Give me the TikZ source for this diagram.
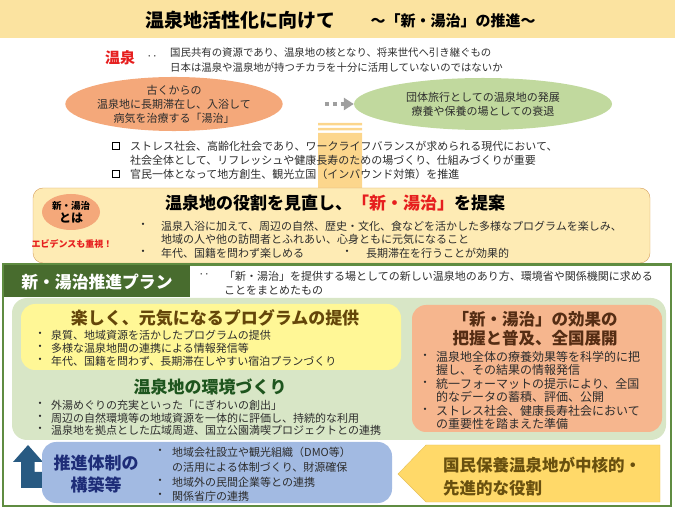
\documentclass[tikz,border=0pt]{standalone}
\usepackage{fontspec}
\setmainfont{Noto Sans CJK JP}
\usepackage{xcolor}
\usepackage{tikz}
\usetikzlibrary{arrows.meta,shapes.geometric}

\definecolor{bandyellow}{RGB}{251,227,160}
\definecolor{bodygray}{RGB}{45,45,45}
\definecolor{onsenred}{RGB}{230,30,30}
\definecolor{oldorange}{RGB}{244,168,122}
\definecolor{newgreen}{RGB}{193,217,158}
\definecolor{stripeyellow}{RGB}{252,214,140}
\definecolor{rolefill}{RGB}{254,235,180}
\definecolor{roleedge}{RGB}{214,160,95}
\definecolor{outergreen}{RGB}{95,140,65}
\definecolor{tabgreen}{RGB}{72,108,46}
\definecolor{panelgreen}{RGB}{216,230,198}
\definecolor{progyellow}{RGB}{255,247,150}
\definecolor{progbrown}{RGB}{100,70,10}
\definecolor{envgreen}{RGB}{30,85,30}
\definecolor{effectorange}{RGB}{246,182,142}
\definecolor{effectbrown}{RGB}{85,45,20}
\definecolor{systemblue}{RGB}{162,186,226}
\definecolor{systemnavy}{RGB}{30,45,120}
\definecolor{uparrowblue}{RGB}{40,90,130}
\definecolor{coreyellow}{RGB}{255,217,105}
\definecolor{coreedge}{RGB}{230,192,85}
\definecolor{coretext}{RGB}{105,80,15}

\tikzset{
  body/.style={font=\fontsize{11}{14}\selectfont, text=bodygray, inner sep=0pt},
  line/.style={body, anchor=west},
  dot/.style={body},
  bighead/.style={font=\fontsize{17}{21}\selectfont\bfseries, inner sep=0pt},
  chk/.style={draw=black, line width=1.3pt, minimum size=7pt, inner sep=0pt},
  dotarrow/.style={draw=gray!75, line width=3.5pt, dash pattern=on 4pt off 4pt,
    -{Triangle[length=10pt,width=12pt]}, shorten <=42pt},
  ell/.style={ellipse, inner sep=0pt, align=center, text=bodygray,
    font=\fontsize{11}{14}\selectfont}
}

\begin{document}
\begin{tikzpicture}[x=1pt,y=-1pt]
\useasboundingbox (0,0) rectangle (675,510);

\fill[bandyellow] (0,0) rectangle (675,38);
\node at (240,20) (title)[font=\fontsize{19}{22}\selectfont\bfseries, inner sep=0pt]{温泉地活性化に向けて};
\node at (453,21) (subtitle)[font=\fontsize{15}{18}\selectfont\bfseries, inner sep=0pt]{～「新・湯治」の推進～};

\node at (120,58) (onsen)[font=\fontsize{15}{18}\selectfont\bfseries, text=onsenred, inner sep=0pt]{温泉};
\node at (152,58) (onsendots)[dot]{‥};
\node at (170,53) (onsen1)[line, font=\fontsize{10.4}{13}\selectfont]{国民共有の資源であり、温泉地の核となり、将来世代へ引き継ぐもの};
\node at (170,68) (onsen2)[line, font=\fontsize{10.4}{13}\selectfont]{日本は温泉や温泉地が持つチカラを十分に活用していないのではないか};

\fill[stripeyellow] (318,123) rectangle (362,125.5) (318,128) rectangle (362,130.5)
  (318,133) rectangle (362,190);
\node at (174,104) (old)[ell, fill=oldorange, minimum width=212pt, minimum height=54pt]{古くからの\\温泉地に長期滞在し、入浴して\\病気を治療する「湯治」};
\node at (483,104) (new)[ell, fill=newgreen, minimum width=258pt, minimum height=52pt]{団体旅行としての温泉地の発展\\療養や保養の場としての衰退};
\path (old) edge[dotarrow] (new);

\node at (116,146) (chk1)[chk]{};
\node at (116,174) (chk2)[chk]{};
\node at (130,146) (bg1)[line]{ストレス社会、高齢化社会であり、ワークライフバランスが求められる現代において、};
\node at (130,160) (bg2)[line]{社会全体として、リフレッシュや健康長寿のための場づくり、仕組みづくりが重要};
\node at (130,174) (bg3)[line]{官民一体となって地方創生、観光立国（インバウンド対策）を推進};

\node at (341.5,225.5) (role)[draw=roleedge, fill=rolefill, rounded corners=10pt, minimum width=617pt, minimum height=75pt]{};
\node at (71,212) (towa)[ellipse, fill=oldorange, minimum width=58pt, minimum height=36pt, inner sep=0pt, align=center, font=\fontsize{9.5}{13}\selectfont\bfseries]{新・湯治\\{\fontsize{12}{13}\selectfont とは}};
\node at (72,244) (evidence)[font=\fontsize{9}{11}\selectfont\bfseries, text=onsenred, inner sep=0pt]{エビデンスも重視！};
\node at (165,203) (rolehead)[bighead, anchor=west]{温泉地の役割を見直し、\textcolor{onsenred}{「新・湯治」}を提案};
\node at (143,226) (rd1)[dot]{・};
\node at (143,253) (rd2)[dot]{・};
\node at (347,253) (rd3)[dot]{・};
\node at (161,226) (role1)[line]{温泉入浴に加えて、周辺の自然、歴史・文化、食などを活かした多様なプログラムを楽しみ、};
\node at (161,239) (role2)[line]{地域の人や他の訪問者とふれあい、心身ともに元気になること};
\node at (161,253) (role3)[line]{年代、国籍を問わず楽しめる};
\node at (366,253) (role4)[line]{長期滞在を行うことが効果的};

\draw[outergreen, line width=2.5pt] (3,264.5) rectangle (671,506);
\fill[tabgreen] (4,265) rectangle (190,297);
\node at (97,282) (plan)[font=\fontsize{16.8}{20}\selectfont\bfseries, text=white, inner sep=0pt]{新・湯治推進プラン};
\node at (204,276) (plandots)[dot]{‥};
\node at (224,276) (plan1)[line]{「新・湯治」を提供する場としての新しい温泉地のあり方、環境省や関係機関に求める};
\node at (224,290) (plan2)[line]{ことをまとめたもの};

\fill[panelgreen, rounded corners=15pt] (12,298) rectangle (666,440);
\node at (211,337) (prog)[fill=progyellow, rounded corners=14pt, minimum width=380pt, minimum height=66pt]{};
\node at (215,318) (proghead)[bighead, text=progbrown]{楽しく、元気になるプログラムの提供};
\node at (40,335) (pd1)[dot]{・};
\node at (40,348) (pd2)[dot]{・};
\node at (40,361) (pd3)[dot]{・};
\node at (51,335) (prog1)[line]{泉質、地域資源を活かしたプログラムの提供};
\node at (51,348) (prog2)[line]{多様な温泉地間の連携による情報発信等};
\node at (51,361) (prog3)[line]{年代、国籍を問わず、長期滞在しやすい宿泊プランづくり};

\node at (210,387) (envhead)[bighead, text=envgreen]{温泉地の環境づくり};
\node at (40,405) (ed1)[dot]{・};
\node at (40,418) (ed2)[dot]{・};
\node at (40,430) (ed3)[dot]{・};
\node at (51,405) (env1)[line]{外湯めぐりの充実といった「にぎわいの創出」};
\node at (51,418) (env2)[line]{周辺の自然環境等の地域資源を一体的に評価し、持続的な利用};
\node at (51,430) (env3)[line]{温泉地を拠点とした広域周遊、国立公園満喫プロジェクトとの連携};

\node at (537,368.5) (effect)[fill=effectorange, rounded corners=14pt, minimum width=250pt, minimum height=127pt]{};
\node at (535,329) (effecthead)[bighead, text=effectbrown, align=center, font=\fontsize{16.5}{19}\selectfont\bfseries]{「新・湯治」の効果の\\把握と普及、全国展開};
\node at (425,357) (xd1)[dot]{・};
\node at (425,384) (xd2)[dot]{・};
\node at (425,411) (xd3)[dot]{・};
\node at (436,357) (eff1)[line, font=\fontsize{12}{14}\selectfont]{温泉地全体の療養効果等を科学的に把};
\node at (436,370) (eff2)[line, font=\fontsize{12}{14}\selectfont]{握し、その結果の情報発信};
\node at (436,384) (eff3)[line, font=\fontsize{12}{14}\selectfont]{統一フォーマットの提示により、全国};
\node at (436,397) (eff4)[line, font=\fontsize{12}{14}\selectfont]{的なデータの蓄積、評価、公開};
\node at (436,411) (eff5)[line, font=\fontsize{12}{14}\selectfont]{ストレス社会、健康長寿社会において};
\node at (436,424) (eff6)[line, font=\fontsize{12}{14}\selectfont]{の重要性を踏まえた準備};

\fill[uparrowblue] (28,445) -- (43,462) -- (34.5,462) -- (34.5,472) -- (50,472) -- (50,488)
  -- (21,488) -- (21,462) -- (13,462) -- cycle;
\node at (217,472.5) (system)[fill=systemblue, rounded corners=14pt, minimum width=350pt, minimum height=61pt]{};
\node at (96,474) (systemhead)[align=center, text=systemnavy, inner sep=0pt, font=\fontsize{17}{22}\selectfont\bfseries]{推進体制の\\構築等};
\node at (160,452) (sd1)[dot]{・};
\node at (160,482) (sd2)[dot]{・};
\node at (160,496) (sd3)[dot]{・};
\node at (172,452) (sys1)[line]{地域会社設立や観光組織（DMO等）};
\node at (172,467) (sys2)[line]{の活用による体制づくり、財源確保};
\node at (172,482) (sys3)[line]{地域外の民間企業等との連携};
\node at (172,496) (sys4)[line]{関係省庁の連携};

\draw[fill=coreyellow, draw=coreedge] (398,474) -- (426,445) -- (660,445) -- (660,502)
  -- (426,502) -- cycle;
\node at (443,477) (core)[anchor=west, align=left, text=coretext, inner sep=0pt, font=\fontsize{16.5}{23}\selectfont\bfseries]{国民保養温泉地が中核的・\\先進的な役割};
\end{tikzpicture}
\end{document}
